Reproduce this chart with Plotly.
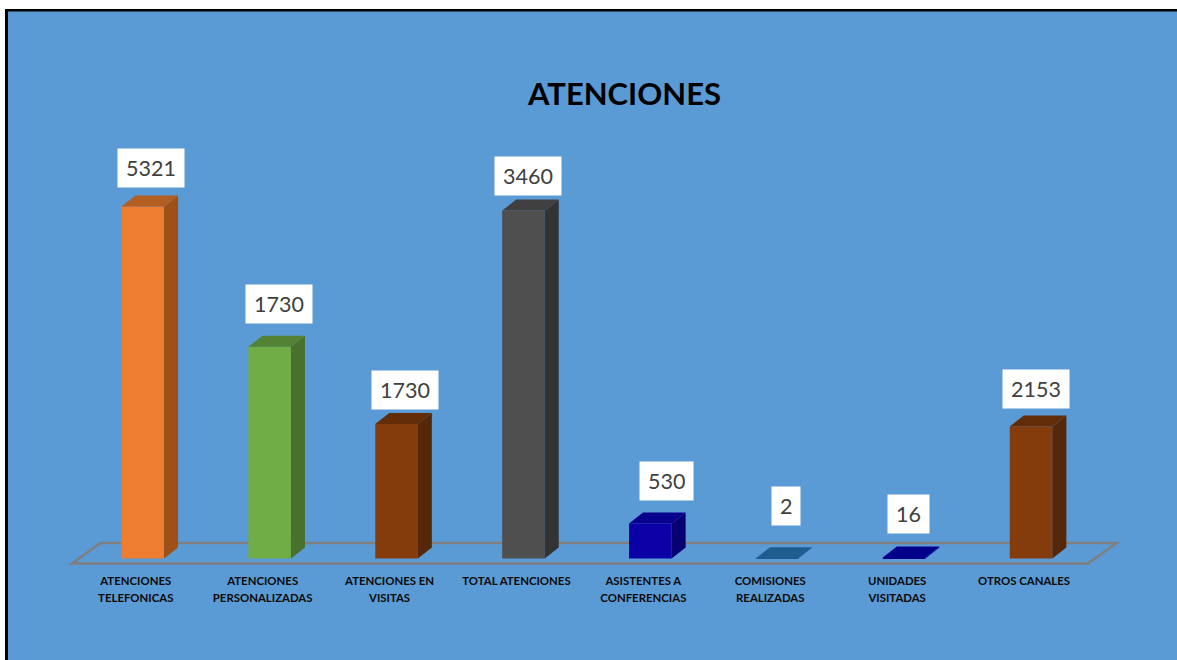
import plotly.graph_objects as go

# ---- data ----
categories = ["ATENCIONES\nTELEFONICAS", "ATENCIONES\nPERSONALIZADAS", "ATENCIONES EN\nVISITAS",
              "TOTAL ATENCIONES", "ASISTENTES A\nCONFERENCIAS", "COMISIONES\nREALIZADAS",
              "UNIDADES\nVISITADAS", "OTROS CANALES"]
bar_heights = [5321, 3200, 2035, 5260, 530, 2, 16, 1995]
value_labels = ["5321", "1730", "1730", "3460", "530", "2", "16", "2153"]

# ---- styles ----
front_colors = ["#ED7D31", "#70AD47", "#843C0C", "#4F4F4F", "#0B00A6", "#1F5C8F", "#00008B", "#843C0C"]
side_colors = ["#9E5018", "#4A702D", "#562708", "#333333", "#060070", "#1F5C8F", "#00008B", "#562708"]
top_colors = ["#B45F22", "#548235", "#632D09", "#404040", "#08008C", "#1F5C8F", "#00008B", "#632D09"]
label_shift_x = [8, 9, 8, 4.5, 16, 9, 4.5, 4.5]
label_shift_y = [39, 43, 34, 35, 42, 52, 43, 38]

W, H = 1177, 660
PLOT_BOTTOM = 568
PX_X, X0 = 126.9, 142.75      # pixels per category, pixel of first centre
BASE_Y, PX_Y = 558.5, 15.117  # pixel of zero, value per pixel
BAR_W = 42.6 / PX_X
DX, DY = 14 / PX_X, 11 * PX_Y


def to_x(px):
    return (px - X0) / PX_X


def to_y(px):
    return (BASE_Y - px) * PX_Y


fig = go.Figure()
xs = list(range(len(categories)))
fig.add_trace(go.Bar(x=xs, y=bar_heights, width=BAR_W, marker=dict(color=front_colors, line_width=0),
                     hoverinfo="skip", showlegend=False))
hw = BAR_W / 2
for x, v, sc, tc in zip(xs, bar_heights, side_colors, top_colors):
    fig.add_trace(go.Scatter(x=[x + hw, x + hw + DX, x + hw + DX, x + hw, x + hw],
                             y=[0, DY, v + DY, v, 0], mode="lines", fill="toself",
                             fillcolor=sc, line=dict(width=0), hoverinfo="skip", showlegend=False))
    fig.add_trace(go.Scatter(x=[x - hw, x + hw, x + hw + DX, x - hw + DX, x - hw],
                             y=[v, v, v + DY, v + DY, v], mode="lines", fill="toself",
                             fillcolor=tc, line=dict(width=0), hoverinfo="skip", showlegend=False))

lines1 = [c.split("\n")[0] for c in categories]
lines2 = [c.split("\n")[1] if "\n" in c else " " for c in categories]
tick_pos = [x - 7 / PX_X for x in xs]
fig.add_trace(go.Scatter(x=tick_pos, y=[0] * len(xs), xaxis="x2", mode="markers",
                         marker=dict(opacity=0), hoverinfo="skip", showlegend=False))

annotations = []
for x, v, t, sx, sy in zip(xs, bar_heights, value_labels, label_shift_x, label_shift_y):
    annotations.append(dict(x=x, y=v, text=t, showarrow=False, xshift=sx, yshift=sy,
                            bgcolor="white", borderpad=8, height=22, valign="middle",
                            font=dict(family="Lato", size=21.5, color="#404040")))

xr = [to_x(0), to_x(W)]
tickfont = dict(family="Lato", size=11.4, color="#0a0a0a", weight="bold")
fig.update_layout(
    width=W, height=H, margin=dict(l=0, r=0, t=0, b=H - PLOT_BOTTOM, pad=0),
    paper_bgcolor="#5B9BD5", plot_bgcolor="rgba(0,0,0,0)", showlegend=False,
    title=dict(text="<b>ATENCIONES</b>", x=624.5 / W, xanchor="center", y=1 - 94.5 / H, yanchor="middle",
               font=dict(family="Lato", size=31, color="black")),
    xaxis=dict(range=xr, tickmode="array", tickvals=tick_pos, ticktext=lines1, showgrid=False,
               zeroline=False, showline=False, ticks="outside", ticklen=2, tickcolor="rgba(0,0,0,0)",
               tickangle=0, tickfont=tickfont),
    xaxis2=dict(range=xr, overlaying="x", anchor="y", side="bottom", tickmode="array", tickvals=tick_pos,
                ticktext=lines2, showgrid=False, zeroline=False, showline=False, ticks="outside",
                ticklen=19, tickcolor="rgba(0,0,0,0)", tickangle=0, tickfont=tickfont),
    yaxis=dict(range=[to_y(PLOT_BOTTOM), to_y(0)], visible=False),
    annotations=annotations,
    shapes=[
        dict(type="path", layer="below", xref="x", yref="y",
             path="M {} {} L {} {} L {} {} L {} {} Z".format(to_x(72), to_y(563.5), to_x(1088), to_y(563.5),
                                                             to_x(1116.5), to_y(543), to_x(100.5), to_y(543)),
             line=dict(color="#7F7F7F", width=2.5)),
        dict(type="rect", layer="above", xref="paper", yref="paper", x0=0, x1=5 / W, y0=-(H - PLOT_BOTTOM) / PLOT_BOTTOM,
             y1=1, fillcolor="white", line_width=0),
        dict(type="rect", layer="above", xref="paper", yref="paper", x0=0, x1=1, y0=1 - 9 / PLOT_BOTTOM,
             y1=1, fillcolor="white", line_width=0),
        dict(type="rect", layer="above", xref="paper", yref="paper", x0=5 / W, x1=8 / W,
             y0=-(H - PLOT_BOTTOM) / PLOT_BOTTOM, y1=1 - 9 / PLOT_BOTTOM, fillcolor="black", line_width=0),
        dict(type="rect", layer="above", xref="paper", yref="paper", x0=5 / W, x1=1, y0=1 - 11.5 / PLOT_BOTTOM,
             y1=1 - 9 / PLOT_BOTTOM, fillcolor="black", line_width=0),
    ],
)
fig.write_html("out.html", config=dict(displayModeBar=False), post_script="document.body.style.margin='0';")
